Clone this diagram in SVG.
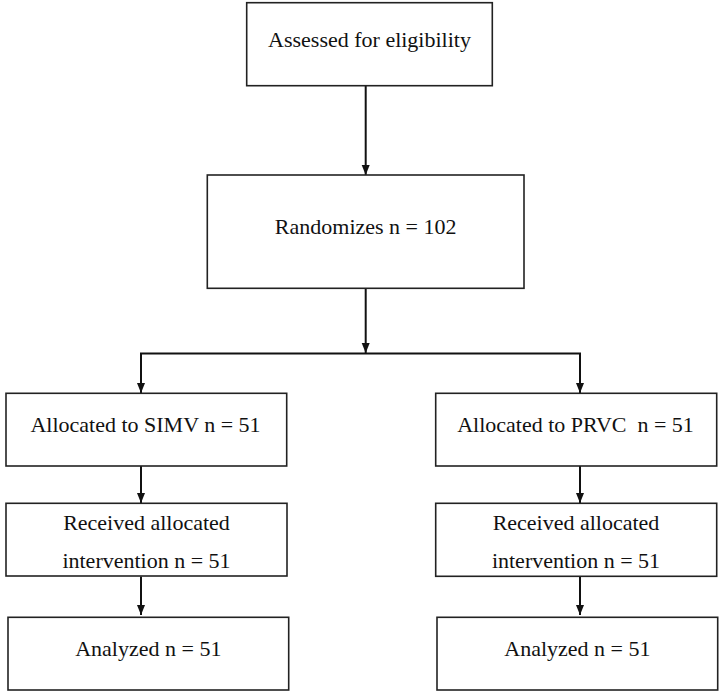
<svg xmlns="http://www.w3.org/2000/svg" width="721" height="698" viewBox="0 0 721 698">
<style>
.box{fill:#fff;stroke:#222;stroke-width:1.6}
.t{font-family:"Liberation Serif","Times New Roman",serif;font-size:22px;fill:#111;text-anchor:middle;white-space:pre}
.c{fill:none;stroke:#111;stroke-width:2}
</style>
<defs>
<marker id="ah" markerUnits="userSpaceOnUse" markerWidth="10" markerHeight="10" refX="10" refY="4" orient="auto">
<path d="M0,0 L10,4 L0,8 z" fill="#111"/>
</marker>
</defs>
<rect width="721" height="698" fill="#fff"/>
<g id="connectors">
<line class="c" x1="365.7" y1="86" x2="365.7" y2="175" marker-end="url(#ah)"/>
<line class="c" x1="365.7" y1="288.5" x2="365.7" y2="353" marker-end="url(#ah)"/>
<polyline class="c" points="141,393 141,353.5 580,353.5 580,393"/>
<line class="c" x1="141" y1="353.5" x2="141" y2="393" marker-end="url(#ah)"/>
<line class="c" x1="580" y1="353.5" x2="580" y2="393" marker-end="url(#ah)"/>
<line class="c" x1="141" y1="466" x2="141" y2="503" marker-end="url(#ah)"/>
<line class="c" x1="580" y1="466" x2="580" y2="503" marker-end="url(#ah)"/>
<line class="c" x1="141" y1="576.5" x2="141" y2="615" marker-end="url(#ah)"/>
<line class="c" x1="580" y1="576.5" x2="580" y2="615" marker-end="url(#ah)"/>
</g>
<g id="assessed">
<rect class="box" x="246.7" y="2.7" width="245.6" height="83"/>
<text class="t" x="369.5" y="46.7">Assessed for eligibility</text>
</g>
<g id="randomizes">
<rect class="box" x="207.3" y="175" width="316.7" height="113.3"/>
<text class="t" x="365.7" y="234">Randomizes n = 102</text>
</g>
<g id="alloc-simv">
<rect class="box" x="6" y="393.3" width="280.7" height="72.7"/>
<text class="t" x="145.5" y="431.7">Allocated to SIMV n = 51</text>
</g>
<g id="alloc-prvc">
<rect class="box" x="435.7" y="393.3" width="281" height="72.7"/>
<text class="t" x="575.5" y="431.7">Allocated to PRVC  n = 51</text>
</g>
<g id="recv-simv">
<rect class="box" x="6" y="503.3" width="281" height="72.7"/>
<text class="t" x="146.5" y="530">Received allocated</text>
<text class="t" x="146.5" y="568">intervention n = 51</text>
</g>
<g id="recv-prvc">
<rect class="box" x="435.7" y="503.3" width="281" height="73"/>
<text class="t" x="576" y="530">Received allocated</text>
<text class="t" x="576" y="568">intervention n = 51</text>
</g>
<g id="anal-simv">
<rect class="box" x="8" y="617.3" width="280.7" height="72.7"/>
<text class="t" x="148.3" y="655.7">Analyzed n = 51</text>
</g>
<g id="anal-prvc">
<rect class="box" x="437" y="617.3" width="280.7" height="72.7"/>
<text class="t" x="577.4" y="655.7">Analyzed n = 51</text>
</g>
</svg>
